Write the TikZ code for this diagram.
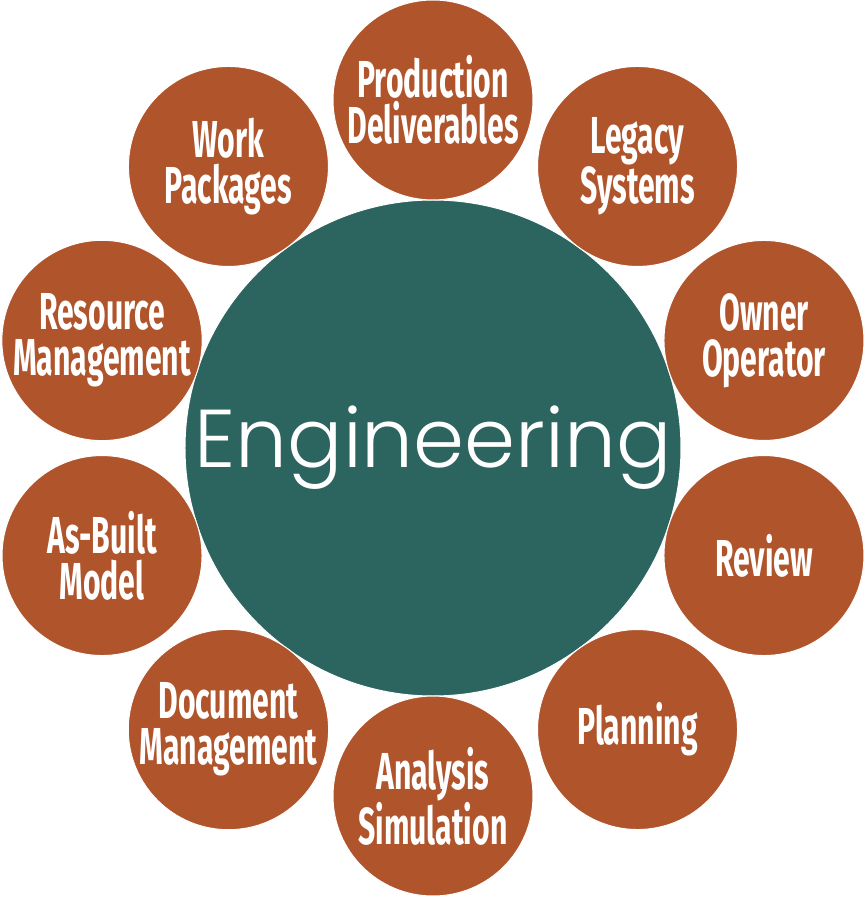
\documentclass[tikz,border=0pt]{standalone}
\usepackage{fontspec}
\newfontfamily\bubblefont[FakeStretch=0.58]{Fira Sans}
\newfontfamily\hubfont{Poppins Light}
\definecolor{rust}{HTML}{B0542B}
\definecolor{teal}{HTML}{2C655F}
\tikzset{
  bubble/.style={circle, fill=rust, draw=white, line width=1pt, minimum size=200pt,
    inner sep=0pt, align=center, text=white,
    font=\bubblefont\bfseries\fontsize{52}{46}\selectfont},
  hub/.style={circle, fill=teal, draw=white, line width=1pt, minimum size=496pt,
    inner sep=0pt, text=white, font=\hubfont\fontsize{82}{90}\selectfont}
}
\begin{document}
\begin{tikzpicture}[x=1pt,y=1pt]
      % \draw[very thin, gray, step=50] (-433,-452) grid (433,448);
      \useasboundingbox (-433,-452) rectangle (433,448);

      \node[hub] (eng) at (0,0) {Engineering};

      \node[bubble] (prod)     at (90:348)  {Production\\Deliverables};
      \node[bubble] (legacy)   at (54:348)  {Legacy\\Systems};
      \node[bubble] (owner)    at (18:348)  {Owner\\Operator};
      \node[bubble] (review)   at (-18:348) {Review};
      \node[bubble] (planning) at (-54:348) {Planning};
      \node[bubble] (analysis) at (-90:348) {Analysis\\Simulation};
      \node[bubble] (document) at (234:348) {Document\\Management};
      \node[bubble] (asbuilt)  at (198:348) {As-Built\\Model};
      \node[bubble] (resource) at (162:348) {Resource\\Management};
      \node[bubble] (work)     at (126:348) {Work\\Packages};
    \end{tikzpicture}
\end{document}
